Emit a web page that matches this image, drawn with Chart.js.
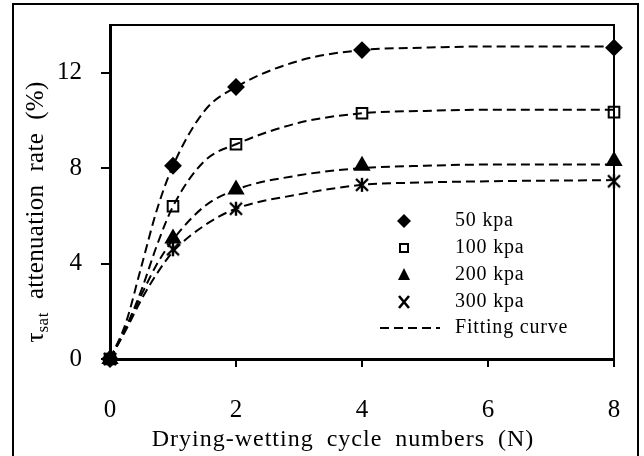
<!DOCTYPE html>
<html>
<head>
<meta charset="utf-8">
<script src="https://cdn.jsdelivr.net/npm/chart.js@4/dist/chart.umd.min.js"></script>
<style>
  html, body { margin: 0; padding: 0; background: #fff; }
  #wrap { width: 644px; height: 456px; position: relative; }
</style>
</head>
<body>
<div id="wrap"><canvas id="chart"></canvas></div>
<script>
// measured points (cycle number N)
var cycles = [0, 1, 2, 4, 8]
var kpa50 = [0, 8.1, 11.4, 12.95, 13.05]
var kpa100 = [0, 6.4, 9.0, 10.3, 10.35]
var kpa200 = [0, 5.05, 7.1, 8.1, 8.3]
var kpa300 = [0, 4.6, 6.3, 7.3, 7.45]

// fitting curves
var fitN = [0, 0.25, 0.5, 0.75, 1, 1.5, 2, 3, 4, 5, 6, 8]
var fit50 = [0, 1.5, 3.9, 6.3, 8.1, 10.4, 11.4, 12.5, 12.95, 13.05, 13.1, 13.1]
var fit100 = [0, 1.3, 2.9, 4.8, 6.4, 8.3, 9.0, 9.9, 10.3, 10.4, 10.45, 10.45]
var fit200 = [0, 1.3, 2.7, 4.0, 5.0, 6.4, 7.1, 7.7, 8.0, 8.1, 8.15, 8.15]
var fit300 = [0, 1.2, 2.5, 3.6, 4.5, 5.6, 6.3, 6.9, 7.3, 7.4, 7.45, 7.5]

var xTicks = [0, 2, 4, 6, 8]
var yTicks = [0, 4, 8, 12]
var legendLabels = ['50 kpa', '100 kpa', '200 kpa', '300 kpa', 'Fitting curve']

var FONT = "'Liberation Serif', 'Times New Roman', serif"
Chart.defaults.font.family = FONT
Chart.defaults.color = '#000'

function pts(xs, ys) {
    return xs.map((x, i) => ({ x: x, y: ys[i] }))
}

// asterisk marker for 300 kpa
function starMarker() {
    var c = document.createElement('canvas')
    c.width = 16; c.height = 16
    var g = c.getContext('2d')
    g.strokeStyle = '#000'
    g.lineWidth = 2.4
    g.beginPath()
    g.moveTo(2, 2); g.lineTo(14, 14)
    g.moveTo(14, 2); g.lineTo(2, 14)
    g.moveTo(8, 1); g.lineTo(8, 15)
    g.stroke()
    return c
}

function fitSet(data) {
    return {
        type: 'line',
        data: pts(fitN, data),
        borderColor: '#000',
        borderWidth: 2,
        borderDash: [9, 5],
        pointRadius: 0,
        cubicInterpolationMode: 'monotone',
        fill: false,
        order: 2
    }
}

function pointSet(data, style, radius, bg) {
    return {
        type: 'scatter',
        data: pts(cycles, data),
        pointStyle: style,
        pointRadius: radius,
        pointBackgroundColor: bg,
        pointBorderColor: '#000',
        pointBorderWidth: 2,
        showLine: false,
        clip: false,
        order: 1
    }
}

function noPad(s) {
    s.paddingTop = 0; s.paddingBottom = 0
    s.paddingLeft = 0; s.paddingRight = 0
}

var frame = {
    id: 'frame',
    afterDraw(chart) {
        var c = chart.ctx
        var a = chart.chartArea
        c.save()
        // outer box
        c.strokeStyle = '#000'
        c.lineWidth = 2
        c.strokeRect(13, 4, 625, 470)
        // top and right of plot area
        c.lineWidth = 2
        c.beginPath()
        c.moveTo(a.left, a.top)
        c.lineTo(a.right, a.top)
        c.lineTo(a.right, a.bottom)
        c.stroke()

        // x title
        c.fillStyle = '#000'
        c.font = '24px ' + FONT
        c.letterSpacing = '1px'
        c.wordSpacing = '6px'
        c.textAlign = 'center'
        c.textBaseline = 'alphabetic'
        c.fillText('Drying-wetting cycle numbers (N)', 343, 446)

        // y title with subscript
        c.translate(43, 212)
        c.rotate(-Math.PI / 2)
        c.textAlign = 'left'
        c.font = '25px ' + FONT
        c.letterSpacing = '0px'
        c.wordSpacing = '0px'
        var w1 = c.measureText('\u03c4').width
        c.font = '17px ' + FONT
        var w2 = c.measureText('sat').width + 1.5
        c.font = '25px ' + FONT
        c.letterSpacing = '0.3px'
        c.wordSpacing = '3px'
        var rest = '  attenuation  rate  (%)'
        var w3 = c.measureText(rest).width
        var x0 = -(w1 + w2 + w3) / 2
        c.letterSpacing = '0px'
        c.wordSpacing = '0px'
        c.fillText('\u03c4', x0, 0)
        c.font = '17px ' + FONT
        c.letterSpacing = '0.5px'
        c.fillText('sat', x0 + w1, 5)
        c.font = '25px ' + FONT
        c.letterSpacing = '0.3px'
        c.wordSpacing = '3px'
        c.fillText(rest, x0 + w1 + w2, 0)
        c.restore()

        // legend
        c.save()
        var rows = [221, 248, 275, 302, 328]
        var mx = 404
        c.fillStyle = '#000'
        c.strokeStyle = '#000'
        c.font = '20px ' + FONT
        c.letterSpacing = '0.8px'
        c.textBaseline = 'middle'
        c.textAlign = 'left'
        legendLabels.forEach((t, i) => c.fillText(t, 455, rows[i]))
        // diamond
        c.beginPath()
        c.moveTo(mx, rows[0] - 7); c.lineTo(mx + 7, rows[0]); c.lineTo(mx, rows[0] + 7); c.lineTo(mx - 7, rows[0])
        c.closePath(); c.fill()
        // open square
        c.lineWidth = 2
        c.strokeRect(mx - 4, rows[1] - 4, 8, 8)
        // triangle
        c.beginPath()
        c.moveTo(mx, rows[2] - 7); c.lineTo(mx + 6, rows[2] + 5); c.lineTo(mx - 6, rows[2] + 5)
        c.closePath(); c.fill()
        // x
        c.lineWidth = 2.6
        c.beginPath()
        c.moveTo(mx - 5, rows[3] - 6); c.lineTo(mx + 5, rows[3] + 6)
        c.moveTo(mx + 5, rows[3] - 6); c.lineTo(mx - 5, rows[3] + 6)
        c.stroke()
        // dashed line
        c.lineWidth = 2
        c.setLineDash([9, 5])
        c.beginPath()
        c.moveTo(380, rows[4]); c.lineTo(440, rows[4])
        c.stroke()
        c.restore()
    }
}

new Chart(document.getElementById('chart'), {
    data: {
        datasets: [
            fitSet(fit50), fitSet(fit100), fitSet(fit200), fitSet(fit300),
            pointSet(kpa50, 'rectRot', 7.5, '#000'),
            pointSet(kpa100, 'rect', 7.5, 'rgba(0,0,0,0)'),
            pointSet(kpa200, 'triangle', 8, '#000'),
            pointSet(kpa300, starMarker(), 8, '#000')
        ]
    },
    options: {
        responsive: true,
        maintainAspectRatio: false,
        animation: false,
        layout: { padding: { left: 0, top: 25, right: 30, bottom: 0 } },
        plugins: {
            legend: { display: false },
            tooltip: { enabled: false }
        },
        scales: {
            x: {
                type: 'linear',
                min: 0,
                max: 8,
                afterBuildTicks: s => { s.ticks = xTicks.map(v => ({ value: v })) },
                afterFit: s => { s.height = 97; noPad(s) },
                grid: { drawOnChartArea: false, drawTicks: true, tickLength: 8, color: '#000', lineWidth: 2 },
                border: { color: '#000', width: 3 },
                ticks: { font: { size: 25 }, padding: 28, color: '#000', maxRotation: 0 }
            },
            y: {
                type: 'linear',
                min: 0,
                max: 14,
                afterBuildTicks: s => { s.ticks = yTicks.map(v => ({ value: v })) },
                afterFit: s => { s.width = 110; noPad(s) },
                grid: { drawOnChartArea: false, drawTicks: true, tickLength: 9, color: '#000', lineWidth: 2 },
                border: { color: '#000', width: 3 },
                ticks: { font: { size: 25 }, padding: 19, color: '#000' }
            }
        }
    },
    plugins: [frame]
})
</script>
</body>
</html>
